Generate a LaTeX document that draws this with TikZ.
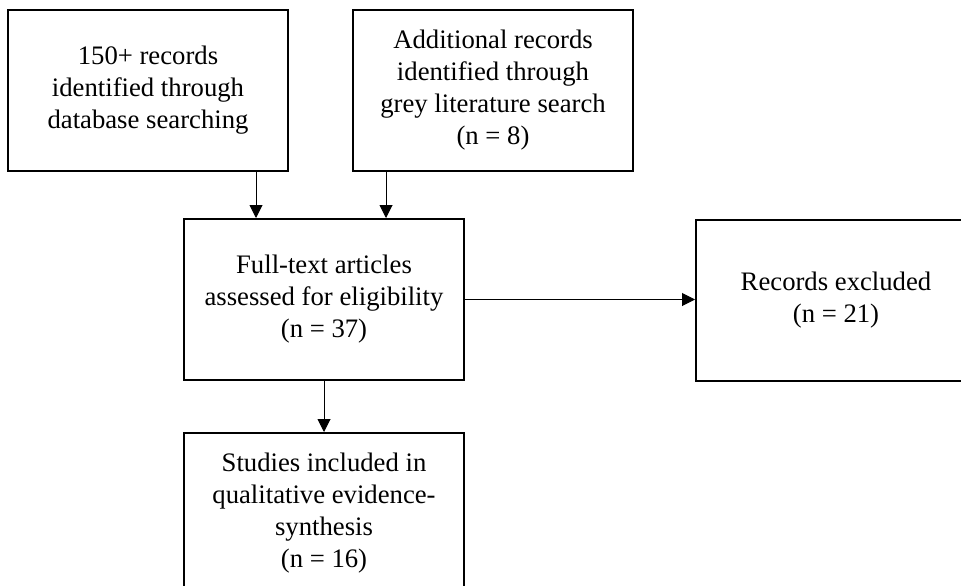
\documentclass[tikz,border=0pt]{standalone}
\usepackage{fontspec}
\setmainfont{Liberation Serif}
\usetikzlibrary{arrows.meta}
\begin{document}
\begin{tikzpicture}[x=1pt,y=1pt,
  box/.style={draw=black,line width=2pt,minimum width=280pt,minimum height=161pt,align=center,inner sep=0pt,
    font=\fontsize{26.7}{32}\selectfont},
  arr/.style={line width=1pt,-{Triangle[length=13pt,width=13pt]}}]
\clip (0,0) rectangle (961,-586);
\fill[white] (0,0) rectangle (961,-586);
\node[box] (b1) at (148,-90.5) {150+ records\\identified through\\database searching};
\node[box] (b2) at (493,-90.5) {Additional records\\identified through\\grey literature search\\(n = 8)};
\node[box] (b3) at (324,-299.5) {Full-text articles\\assessed for eligibility\\(n = 37)};
\node[box] (b4) at (836,-300) {Records excluded\\(n = 21)};
\node[box] (b5) at (324,-513.5) {Studies included in\\qualitative evidence-\\synthesis\\(n = 16)};
\draw[arr] ([xshift=108pt]b1.south) -- ([xshift=108pt]b1.south |- b3.north);
\draw[arr] ([xshift=-107pt]b2.south) -- ([xshift=-107pt]b2.south |- b3.north);
\draw[arr] (b3.east) -- (b3.east -| b4.west);
\draw[arr] (b3.south) -- (b5.north);
\end{tikzpicture}
\end{document}
